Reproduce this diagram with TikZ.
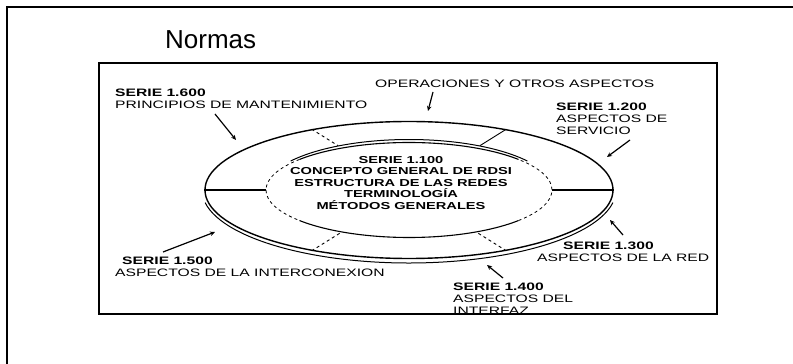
\documentclass[tikz,border=0pt]{standalone}
\usepackage{fontspec}
\newfontfamily\lblfont[FakeStretch=1.45]{Liberation Sans}
\newfontfamily\titlefont{Liberation Sans}
\usetikzlibrary{arrows.meta, shapes.geometric}

\begin{document}
\begin{tikzpicture}[
  x=1pt, y=1pt,
  serie/.style={anchor=north west, inner sep=0pt, align=left, font=\lblfont\fontsize{10.8}{12}\selectfont},
  core/.style={inner sep=0pt, align=center, font=\lblfont\bfseries\fontsize{10.1}{11.5}\selectfont},
  oval/.style={ellipse, inner sep=0pt},
  ring/.style={line width=1.4pt},
  spoke/.style={line width=0.9pt},
  pointer/.style={-{Stealth[length=5pt, width=4.5pt]}, line width=1.2pt}
]
  \useasboundingbox (0,0) rectangle (793,364);

  % page frame (top and left only)
  \draw[line width=1.3pt] (7,0) -- (7,357) -- (793,357);

  % title
  \node[anchor=base west, inner sep=0pt, font=\titlefont\fontsize{26}{30}\selectfont] (title) at (165,315) {Normas};

  % box round the diagram
  \draw[line width=1.3pt] (99,50) rectangle (717,301);

  % rings
  \coordinate (c) at (409,174);
  \node[oval, draw, ring, minimum width=408pt, minimum height=137pt] (outer) at (c) {};
  \node[oval, minimum width=286pt, minimum height=95pt] (inner) at (c) {};
  \node[oval, minimum width=289pt, minimum height=101pt] (innertop) at (c) {};

  % second line under the outer ring
  \draw[line width=1pt] ([shift={(190:207 and 73)}]c) arc[start angle=190, end angle=350, x radius=207, y radius=73];

  % inner ring: solid top and bottom, dashed sides
  \draw[line width=1.1pt] ([shift={(40:143 and 47.5)}]c) arc[start angle=40, end angle=140, x radius=143, y radius=47.5];
  \draw[line width=1.1pt] ([shift={(220:143 and 47.5)}]c) arc[start angle=220, end angle=320, x radius=143, y radius=47.5];
  \draw[line width=0.8pt, dashed] ([shift={(140:143 and 47.5)}]c) arc[start angle=140, end angle=220, x radius=143, y radius=47.5];
  \draw[line width=0.8pt, dashed] ([shift={(-40:143 and 47.5)}]c) arc[start angle=-40, end angle=40, x radius=143, y radius=47.5];
  \draw[line width=1pt] ([shift={(35:144.5 and 50.5)}]c) arc[start angle=35, end angle=145, x radius=144.5, y radius=50.5];

  % dividers between the sectors
  \draw[ring] (outer.west) -- (inner.west);
  \draw[ring] (outer.east) -- (inner.east);
  \draw[spoke, dashed] (outer.148) -- (innertop.148);
  \draw[spoke] (outer.32) -- (innertop.32);
  \draw[spoke, dashed] (outer.212) -- (inner.212);
  \draw[spoke, dashed] (outer.328) -- (inner.328);

  % centre text
  \node[core] (core) at (401,181) {SERIE 1.100\\CONCEPTO GENERAL DE RDSI\\ESTRUCTURA DE LAS REDES\\TERMINOLOGÍA\\MÉTODOS GENERALES};

  % labels
  \node[serie] (s600) at (115,275) {\textbf{SERIE 1.600}\\PRINCIPIOS DE MANTENIMIENTO};
  \node[serie] (soper) at (375,284) {OPERACIONES Y OTROS ASPECTOS};
  \node[serie] (s200) at (556,261) {\textbf{SERIE 1.200}\\ASPECTOS DE\\SERVICIO};
  \node[serie] (s500) at (115,107) {\hspace*{7pt}\textbf{SERIE 1.500}\\ASPECTOS DE LA INTERCONEXION};
  \node[serie] (s300) at (537,122) {\hspace*{26pt}\textbf{SERIE 1.300}\\ASPECTOS DE LA RED};
  \node[serie] (s400) at (453,81) {\textbf{SERIE 1.400}\\ASPECTOS DEL\\INTERFAZ};

  % pointers
  \coordinate (t600) at (215,250); \coordinate (h600) at (236,224);
  \coordinate (toper) at (433,272); \coordinate (hoper) at (428,253);
  \coordinate (t200) at (630,224); \coordinate (h200) at (607,207);
  \coordinate (t500) at (163,112); \coordinate (h500) at (215,132);
  \coordinate (t300) at (623,129); \coordinate (h300) at (610,144);
  \coordinate (t400) at (503,86); \coordinate (h400) at (487,99);
  \draw[pointer] (t600) -- (h600);
  \draw[pointer] (toper) -- (hoper);
  \draw[pointer] (t200) -- (h200);
  \draw[pointer] (t500) -- (h500);
  \draw[pointer] (t300) -- (h300);
  \draw[pointer] (t400) -- (h400);
\end{tikzpicture}
\end{document}
